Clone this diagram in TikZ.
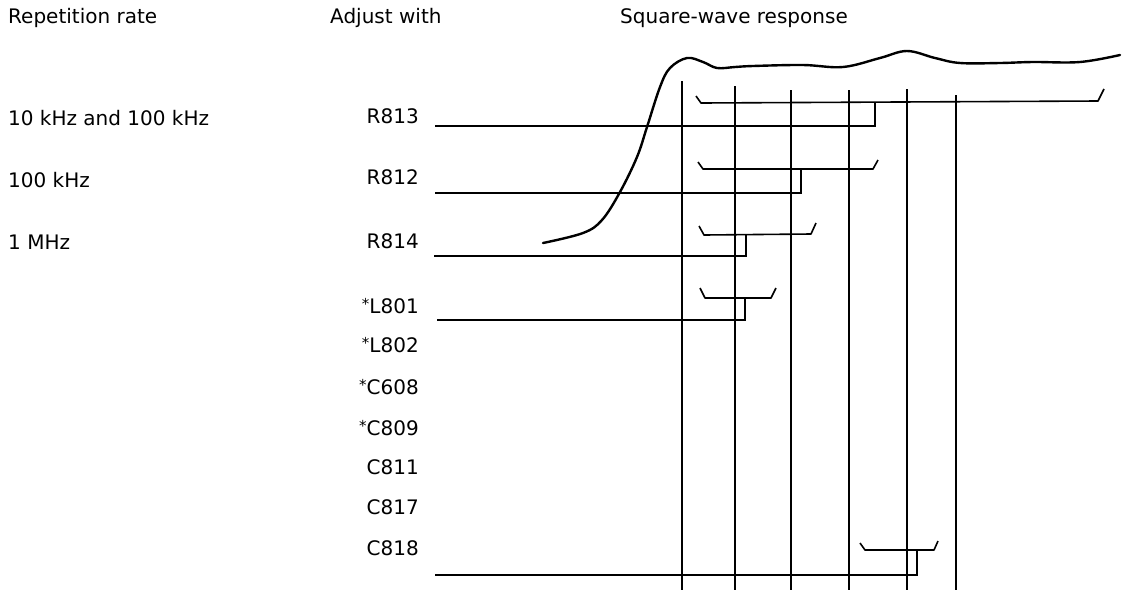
\documentclass[tikz,border=0pt]{standalone}
\usepackage{fontspec}
\setmainfont{DejaVu Sans}
\newcommand{\starmark}{\raisebox{4pt}{\fontsize{15}{15}\selectfont *}}
\begin{document}
\begin{tikzpicture}[x=1pt,y=-1pt,
  txt/.style={inner sep=0pt,font=\fontsize{20}{22}\selectfont},
  lbl/.style={txt,anchor=east},
  ln/.style={line width=1.4pt},
  wave/.style={line width=2.4pt,line cap=round,line join=round},
  brk/.style={line width=1.6pt,line join=round}]
\useasboundingbox (0,0) rectangle (1122,590);
% headings
\node[txt,anchor=west] (h1) at (8,18) {Repetition rate};
\node[txt,anchor=west] (h2) at (330,18) {Adjust with};
\node[txt,anchor=west] (h3) at (620,18) {Square-wave response};
% repetition rates
\node[txt,anchor=west] (r1) at (8,118) {10 kHz and 100 kHz};
\node[txt,anchor=west] (r2) at (8,180) {100 kHz};
\node[txt,anchor=west] (r3) at (8,242) {1 MHz};
% components
\node[lbl] (R813) at (419,116) {R813};
\node[lbl] (R812) at (419,177) {R812};
\node[lbl] (R814) at (419,241) {R814};
\node[lbl] (L801) at (419,306) {\starmark L801};
\node[lbl] (L802) at (419,345) {\starmark L802};
\node[lbl] (C608) at (419,387) {\starmark C608};
\node[lbl] (C809) at (419,428) {\starmark C809};
\node[lbl] (C811) at (419,467) {C811};
\node[lbl] (C817) at (419,507) {C817};
\node[lbl] (C818) at (419,548) {C818};
% vertical grid lines
\foreach \x/\t in {682/81,735/86,791/90,849/90,907/89,956/95}
  \draw[ln] (\x,\t) -- (\x,590);
% response curve
\draw[wave] plot[smooth,tension=0.6] coordinates {(543,243) (583,233) (602,220) (620,192) (637,157) (647,127) (660,87) (670,68) (687,58) (703,62) (717,68) (735,67) (753,66) (803,65) (843,67) (880,58) (907,51) (935,58) (960,63) (1000,63) (1033,62) (1080,62) (1120,55)};
% R813
\draw[ln] (435,126) -- (875,126) -- (875,102);
\draw[brk] (696,96) -- (701,103) -- (1098,101) -- (1104,89);
% R812
\draw[ln] (435,193) -- (801,193) -- (801,169);
\draw[brk] (698,162) -- (703,169) -- (873,169) -- (878,160);
% R814
\draw[ln] (434,256) -- (746,256) -- (746,235);
\draw[brk] (699,226) -- (704,235) -- (811,234) -- (816,223);
% L801
\draw[ln] (437,320) -- (745,320) -- (745,298);
\draw[brk] (700,288) -- (705,298) -- (771,298) -- (776,288);
% C818
\draw[ln] (435,575) -- (917,575) -- (917,550);
\draw[brk] (860,543) -- (865,550) -- (934,550) -- (938,541);
\end{tikzpicture}
\end{document}
